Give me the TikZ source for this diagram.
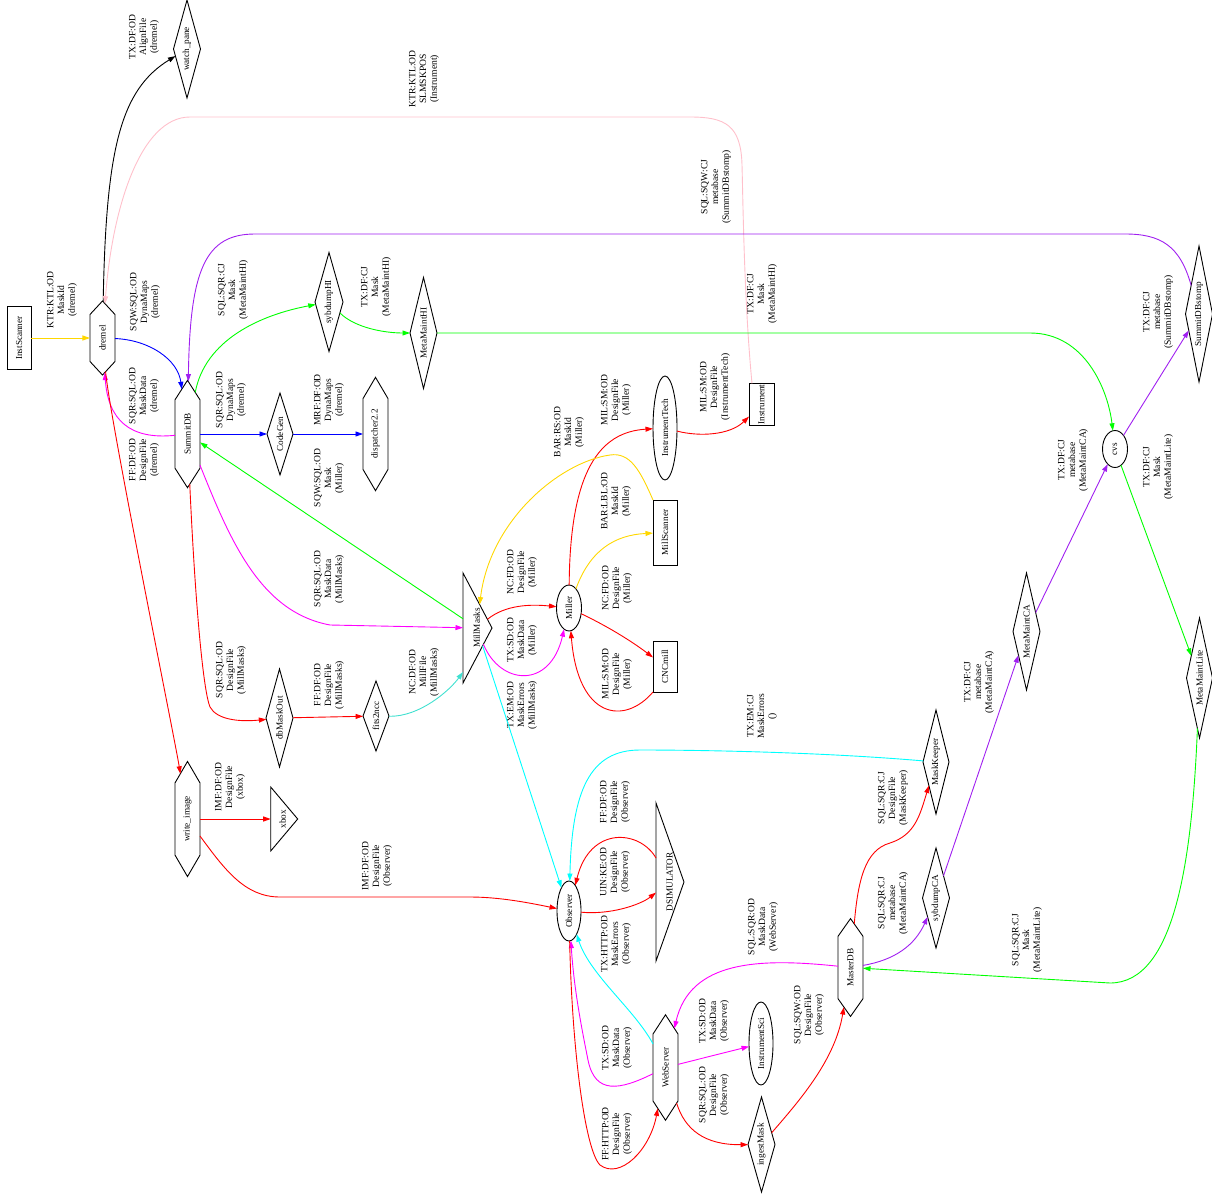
\documentclass[tikz,border=0pt]{standalone}
\usepackage{fontspec}
\usepackage{graphicx}
\setmainfont{Liberation Serif}
\usetikzlibrary{shapes.geometric,shapes.symbols,arrows.meta}

\definecolor{cgold}{HTML}{FFD700}
\definecolor{cpurple}{HTML}{A020F0}
\definecolor{cturq}{HTML}{40E0D0}
\definecolor{cpink}{HTML}{FFC0CB}
\definecolor{ccyan}{HTML}{00FFFF}
\definecolor{cmag}{HTML}{FF00FF}
\definecolor{cred}{HTML}{FF0000}
\definecolor{cgreen}{HTML}{00FF00}
\definecolor{cblue}{HTML}{0000FF}

% upright-reading node text, turned a quarter turn
\newcommand\vlab[1]{\rotatebox{90}{\makebox[0pt]{#1}}}
\newcommand\nodefont{\fontsize{9.2}{11}\selectfont}
\newcommand\lblfont{\fontsize{9.6}{10.8}\selectfont}

\tikzset{
  shp/.style={draw=black, line width=0.9pt, inner sep=0pt, outer sep=0pt, font=\nodefont},
  boxnode/.style 2 args={shp, rectangle, minimum height=#1, minimum width=#2},
  ellnode/.style 2 args={shp, ellipse, minimum height=#1, minimum width=#2},
  dianode/.style 2 args={shp, diamond, minimum height=#1, minimum width=#2},
  hexnode/.style n args={3}{shp, signal, signal to=north and south,
     signal pointer angle=#3, minimum height=#1, minimum width=#2},
  trinode/.style 2 args={shp, isosceles triangle, isosceles triangle stretches,
     minimum width=#1, minimum height=#2, anchor=lower side},
  lbl/.style={font=\lblfont, align=center, rotate=90, inner sep=0pt},
  conn/.style={line width=0.9pt, -{Triangle[length=7.5pt,width=5pt]}},
}

\begin{document}
\begin{tikzpicture}[x=1pt,y=-1pt]
\useasboundingbox (0,0) rectangle (1212,1198);

% ---------- nodes ----------
\node[boxnode={63}{24}] (InstScanner) at (19,338) {\vlab{InstScanner}};
\node[hexnode={54}{25}{85.6}] (dremel) at (102.5,338) {\vlab{dremel}};
\node[dianode={98}{27}] (watchpane) at (187,49) {\vlab{watch\_pane}};
\node[hexnode={78}{25}{65.3}] (SummitDB) at (187.5,434) {\vlab{SummitDB}};
\node[dianode={82}{26}] (CodeGen) at (280,434) {\vlab{CodeGen}};
\node[hexnode={85}{25}{60.9}] (dispatcher) at (375.5,434) {\vlab{dispatcher2.2}};
\node[dianode={99}{28}] (sybdumpHI) at (329,302) {\vlab{sybdumpHI}};
\node[dianode={111}{27}] (MetaMaintHI) at (423.5,333) {\vlab{MetaMaintHI}};
\node[boxnode={42}{25}] (Instrument) at (761.5,404.5) {\vlab{Instrument}};
\node[ellnode={104}{24}] (InstrumentTech) at (665,428) {\vlab{InstrumentTech}};
\node[boxnode={65}{24}] (MillScanner) at (665,532.5) {\vlab{MillScanner}};
\node[ellnode={46}{25}] (Miller) at (569,608) {\vlab{Miller}};
\node[boxnode={51}{24}] (CNCmill) at (665,666.5) {\vlab{CNCmill}};
\node[trinode={110}{29}] (MillMasks) at (463,628) {\vlab{MillMasks}};
\node[dianode={98}{27}] (dbMaskOut) at (279.5,718) {\vlab{dbMaskOut}};
\node[dianode={70}{26}] (fits2ncc) at (376,716) {\vlab{fits2ncc}};
\node[hexnode={86}{25}{60.4}] (writeimage) at (187.5,819) {\vlab{write\_image}};
\node[trinode={64}{27}] (xbox) at (270.7,819) {\vlab{xbox}};
\node[ellnode={60}{24}] (Observer) at (569,911) {\vlab{Observer}};
\node[trinode={158}{28}] (DSIMULATOR) at (656,882) {\vlab{DSIMULATOR}};
\node[dianode={104}{26}] (MaskKeeper) at (936,762) {\vlab{MaskKeeper}};
\node[dianode={100}{27}] (sybdumpCA) at (936,898) {\vlab{sybdumpCA}};
\node[hexnode={71}{25}{70.3}] (MasterDB) at (850.5,967.5) {\vlab{MasterDB}};
\node[hexnode={77}{25}{66}] (WebServer) at (665.5,1067.5) {\vlab{WebServer}};
\node[ellnode={83}{24}] (InstrumentSci) at (761,1043.5) {\vlab{InstrumentSci}};
\node[dianode={95}{27}] (ingestMask) at (761.5,1144.5) {\vlab{ingestMask}};
\node[dianode={117}{27}] (MetaMaintCA) at (1026.5,631.5) {\vlab{MetaMaintCA}};
\node[ellnode={37}{25}] (cvs) at (1115,449) {\vlab{cvs}};
\node[dianode={136}{27}] (SummitDBstomp) at (1199,314) {\vlab{SummitDBstomp}};
\node[dianode={120}{26}] (MetaMaintLite) at (1199.5,678) {\vlab{MetaMaintLite}};

% ---------- connector labels ----------
\node[lbl] (l1) at (62,300) {KTR:KTL:OD\\MaskId\\(dremel)};
\node[lbl] (l2) at (144,37) {TX:DF:OD\\AlignFile\\(dremel)};
\node[lbl] (l3) at (424,79) {KTR:KTL:OD\\SLMSKPOS\\(Instrument)};
\node[lbl] (l4) at (145,302) {SQW:SQL:OD\\DynaMaps\\(dremel)};
\node[lbl] (l5) at (144,396) {SQR:SQL:OD\\MaskData\\(dremel)};
\node[lbl] (l6) at (144,460) {FF:DF:OD\\DesignFile\\(dremel)};
\node[lbl] (l7) at (716,187) {SQL:SQW:CJ\\metabase\\(SummitDBstomp)};
\node[lbl] (l8) at (233,290) {SQL:SQR:CJ\\Mask\\(MetaMaintHI)};
\node[lbl] (l9) at (376,287) {TX:DF:CJ\\Mask\\(MetaMaintHI)};
\node[lbl] (l10) at (762,294) {TX:DF:CJ\\Mask\\(MetaMaintHI)};
\node[lbl] (l11) at (231,400) {SQR:SQL:OD\\DynaMaps\\(dremel)};
\node[lbl] (l12) at (329,400) {MRF:DF:OD\\DynaMaps\\(dremel)};
\node[lbl] (l13) at (329,478) {SQW:SQL:OD\\Mask\\(Miller)};
\node[lbl] (l14) at (329,579) {SQR:SQL:OD\\MaskData\\(MillMasks)};
\node[lbl] (l15) at (231,670) {SQR:SQL:OD\\DesignFile\\(MillMasks)};
\node[lbl] (l16) at (329,685) {FF:DF:OD\\DesignFile\\(MillMasks)};
\node[lbl] (l17) at (424,672) {NC:DF:OD\\MillFile\\(MillMasks)};
\node[lbl] (l18) at (522,572) {NC:FD:OD\\DesignFile\\(Miller)};
\node[lbl] (l19) at (522,640) {TX:SD:OD\\MaskData\\(Miller)};
\node[lbl] (l20) at (616,400) {MIL:SM:OD\\DesignFile\\(Miller)};
\node[lbl] (l21) at (616,501) {BAR:LBL:OD\\MaskId\\(Miller)};
\node[lbl] (l22) at (569,432) {BAR:RS:OD\\MaskId\\(Miller)};
\node[lbl] (l23) at (617,588) {NC:FD:OD\\DesignFile\\(Miller)};
\node[lbl] (l24) at (617,674) {MIL:SM:OD\\DesignFile\\(Miller)};
\node[lbl] (l25) at (715,387) {MIL:SM:OD\\DesignFile\\(InstrumentTech)};
\node[lbl] (l26) at (522,705) {TX:EM:OD\\MaskErrors\\(MillMasks)};
\node[lbl] (l27) at (762,716) {TX:EM:CJ\\MaskErrors\\()};
\node[lbl] (l28) at (230,787) {IMF:DF:OD\\DesignFile\\(xbox)};
\node[lbl] (l29) at (377,866) {IMF:DF:OD\\DesignFile\\(Observer)};
\node[lbl] (l30) at (615,872) {UIN:KE:OD\\DesignFile\\(Observer)};
\node[lbl] (l31) at (615,802) {FF:DF:OD\\DesignFile\\(Observer)};
\node[lbl] (l32) at (616,944) {TX:HTTP:OD\\MaskErrors\\(Observer)};
\node[lbl] (l33) at (617,1048) {TX:SD:OD\\MaskData\\(Observer)};
\node[lbl] (l34) at (617,1134) {FF:HTTP:OD\\DesignFile\\(Observer)};
\node[lbl] (l35) at (763,927) {SQL:SQR:OD\\MaskData\\(WebServer)};
\node[lbl] (l36) at (714,1021) {TX:SD:OD\\MaskData\\(Observer)};
\node[lbl] (l37) at (714,1095) {SQR:SQL:OD\\DesignFile\\(Observer)};
\node[lbl] (l38) at (809,1015) {SQL:SQW:OD\\DesignFile\\(Observer)};
\node[lbl] (l39) at (893,798) {SQL:SQR:CJ\\DesignFile\\(MaskKeeper)};
\node[lbl] (l40) at (893,903) {SQL:SQR:CJ\\metabase\\(MetaMaintCA)};
\node[lbl] (l41) at (979,682) {TX:DF:CJ\\metabase\\(MetaMaintCA)};
\node[lbl] (l42) at (1073,460) {TX:DF:CJ\\metabase\\(MetaMaintCA)};
\node[lbl] (l43) at (1158,312) {TX:DF:CJ\\metabase\\(SummitDBstomp)};
\node[lbl] (l44) at (1158,467) {TX:DF:CJ\\Mask\\(MetaMaintLite)};
\node[lbl] (l45) at (1027,940) {SQL:SQR:CJ\\Mask\\(MetaMaintLite)};

% ---------- connectors ----------
\draw[conn,cgold] (InstScanner) -- (dremel);
\draw[conn,black] (dremel) .. controls (106,150) and (120,90) .. (watchpane);
\draw[conn,cpink] ([xshift=3pt]Instrument.north west) .. controls (744,300) and (743,200) .. (742,165)
   .. controls (741,125) and (725,117) .. (690,117) -- (190,117)
   .. controls (140,117) and (112,210) .. (dremel);
\draw[conn,cblue] (dremel) .. controls (150,340) and (178,360) .. (SummitDB);
\draw[conn,cmag] (SummitDB) .. controls (130,440) and (108,420) .. (dremel);
\draw[conn,cred] (dremel) .. controls (110,420) and (175,740) .. (writeimage);
\draw[conn,cpurple] (SummitDBstomp) .. controls (1180,245) and (1160,234) .. (1125,234) -- (255,234)
   .. controls (205,234) and (190,270) .. (SummitDB);
\draw[conn,cgreen] (SummitDB) .. controls (205,340) and (260,315) .. (sybdumpHI);
\draw[conn,cgreen] (sybdumpHI) .. controls (355,328) and (385,333) .. (MetaMaintHI);
\draw[conn,cgreen] (MetaMaintHI) -- (1030,333) .. controls (1085,333) and (1108,390) .. (cvs);
\draw[conn,cblue] (SummitDB) -- (CodeGen);
\draw[conn,cblue] (CodeGen) -- (dispatcher);
\draw[conn,cgreen] (MillMasks) -- (SummitDB);
\draw[conn,cmag] (SummitDB) .. controls (230,540) and (260,612) .. (330,625) -- (MillMasks);
\draw[conn,cred] (SummitDB) .. controls (195,600) and (203,690) .. (210,707)
   .. controls (217,720) and (240,722) .. (dbMaskOut);
\draw[conn,cred] (dbMaskOut) -- (fits2ncc);
\draw[conn,cturq] (fits2ncc) .. controls (420,717) and (450,690) .. ([yshift=-44pt]MillMasks.lower side);
\draw[conn,cred] (MillMasks) .. controls (505,605) and (530,604) .. (Miller);
\draw[conn,cmag] (MillMasks) .. controls (500,685) and (550,690) .. (Miller);
\draw[conn,cred] (Miller) .. controls (570,470) and (600,432) .. (InstrumentTech);
\draw[conn,cgold] (Miller) .. controls (590,550) and (615,535) .. (MillScanner);
\draw[conn,cgold] (MillScanner.north west) .. controls (640,470) and (630,452) .. (610,455)
   .. controls (560,462) and (490,520) .. (MillMasks);
\draw[conn,cred] (Miller) .. controls (605,625) and (630,640) .. (CNCmill);
\draw[conn,cred] (CNCmill.south west) .. controls (625,725) and (578,720) .. (Miller);
\draw[conn,cred] (InstrumentTech) .. controls (700,437) and (730,435) .. (Instrument);
\draw[conn,ccyan] (MillMasks) -- (Observer);
\draw[conn,ccyan] (MaskKeeper) .. controls (820,752) and (700,750) .. (640,750)
   .. controls (590,750) and (572,790) .. (Observer);
\draw[conn,cred] (writeimage) -- (xbox);
\draw[conn,cred] (writeimage) .. controls (225,870) and (245,897) .. (280,897) -- (470,897)
   .. controls (500,897) and (530,903) .. (Observer);
\draw[conn,cred] (Observer) .. controls (610,915) and (640,905) .. (DSIMULATOR);
\draw[conn,cred] (DSIMULATOR) .. controls (640,830) and (590,825) .. (Observer);
\draw[conn,ccyan] (WebServer) .. controls (635,1010) and (590,975) .. (Observer);
\draw[conn,cmag] (WebServer) .. controls (620,1090) and (595,1095) .. (588,1060)
   .. controls (582,1030) and (574,990) .. (Observer);
\draw[conn,cred] (Observer) .. controls (572,1050) and (585,1150) .. (600,1165)
   .. controls (620,1180) and (650,1150) .. (WebServer);
\draw[conn,cmag] (MasterDB) .. controls (760,958) and (690,960) .. (WebServer);
\draw[conn,cmag] (WebServer) -- (InstrumentSci);
\draw[conn,cred] (WebServer) .. controls (685,1130) and (705,1145) .. (ingestMask);
\draw[conn,cred] (ingestMask) .. controls (800,1100) and (835,1060) .. (MasterDB);
\draw[conn,cred] (MasterDB) .. controls (858,880) and (865,850) .. (890,843)
   .. controls (915,835) and (920,815) .. (MaskKeeper);
\draw[conn,cpurple] (MasterDB) .. controls (895,960) and (915,945) .. (sybdumpCA);
\draw[conn,cpurple] (sybdumpCA) -- (MetaMaintCA);
\draw[conn,cpurple] (MetaMaintCA) -- (cvs);
\draw[conn,cpurple] (cvs) -- (SummitDBstomp);
\draw[conn,cgreen] (cvs) -- (MetaMaintLite);
\draw[conn,cgreen] (MetaMaintLite) .. controls (1192,860) and (1175,983) .. (1110,983) -- (MasterDB);
\end{tikzpicture}
\end{document}
